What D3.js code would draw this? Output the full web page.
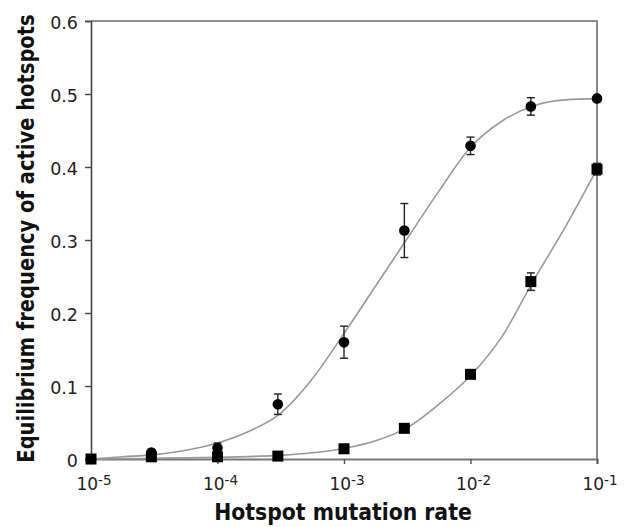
<!DOCTYPE html>
<html>
<head>
<meta charset="utf-8">
<script src="https://cdn.jsdelivr.net/npm/d3@7"></script>
<style>
  html, body { margin: 0; padding: 0; background: #fff; }
  svg { display: block; }
  text { font-family: "DejaVu Sans", Verdana, sans-serif; }
</style>
</head>
<body>
<svg id="chart" width="627" height="527"></svg>
<script>
// Simulated hotspot mutation rates (x) and equilibrium frequencies (y)
const rates = [1e-5, 3e-5, 1e-4, 3e-4, 1e-3, 3e-3, 1e-2, 3e-2, 1e-1];

// Series 1 (circles): mean and error half-width
const circleMeans = [0, 0.009, 0.015, 0.075, 0.160, 0.313, 0.429, 0.483, 0.494];
const circleErr   = [0, 0.004, 0.007, 0.014, 0.022, 0.037, 0.012, 0.012, 0];

// Series 2 (squares): mean and error half-width
const squareMeans = [0, 0.003, 0.003, 0.004, 0.014, 0.042, 0.116, 0.243, 0.397];
const squareErr   = [0, 0.002, 0.002, 0, 0, 0, 0.005, 0.012, 0.008];

// Analytical expectation curves, sampled every quarter decade
const curveRates = [1e-5, 1.778e-5, 3.162e-5, 5.623e-5, 1e-4, 1.778e-4, 3.162e-4, 5.623e-4,
                    1e-3, 1.778e-3, 3.162e-3, 5.623e-3, 1e-2, 1.778e-2, 3.162e-2, 5.623e-2, 1e-1];
const circleCurve = [0, 0.003, 0.006, 0.012, 0.022, 0.038, 0.063, 0.110,
                     0.172, 0.237, 0.302, 0.367, 0.427, 0.463, 0.484, 0.492, 0.4936];
const squareCurve = [0, 0.0005, 0.001, 0.0015, 0.0022, 0.0033, 0.005, 0.0085,
                     0.0145, 0.025, 0.043, 0.075, 0.114, 0.168, 0.245, 0.318, 0.397];

// Axis ticks
const xTickExponents = [-5, -4, -3, -2, -1];
const yTicks = [0, 0.1, 0.2, 0.3, 0.4, 0.5, 0.6];

const xTitle = "Hotspot mutation rate";
const yTitle = "Equilibrium frequency of active hotspots";

const svg = d3.select("#chart");
const plot = { left: 91, right: 597, top: 21, bottom: 459 };

const x = d3.scaleLog().domain([1e-5, 1e-1]).range([plot.left, plot.right]);
const y = d3.scaleLinear().domain([0, 0.6]).range([plot.bottom, plot.top]);

// Frame: top and right edges
svg.append("path")
  .attr("d", `M${plot.left},${plot.top}H${plot.right}V${plot.bottom}`)
  .attr("fill", "none").attr("stroke", "#6b6b6b").attr("stroke-width", 1.6);

// Y axis
const yAxis = svg.append("g")
  .attr("transform", `translate(${plot.left},0)`)
  .call(d3.axisLeft(y).tickValues(yTicks).tickSize(6).tickPadding(7)
        .tickFormat(d => d === 0 ? "0" : d3.format(".1f")(d)));
yAxis.select(".domain").attr("stroke", "#444").attr("stroke-width", 1.6);
yAxis.selectAll(".tick line").attr("stroke", "#444").attr("stroke-width", 1.4);
yAxis.selectAll(".tick text").attr("font-size", 17.5).attr("fill", "#222").attr("dy", "0.42em");

// X axis
const xAxis = svg.append("g")
  .attr("transform", `translate(0,${plot.bottom})`)
  .call(d3.axisBottom(x).tickValues(xTickExponents.map(e => Math.pow(10, e)))
        .tickSize(5).tickFormat(""));
xAxis.select(".domain").attr("stroke", "#777").attr("stroke-width", 2.2);
xAxis.selectAll(".tick line").attr("stroke", "#555").attr("stroke-width", 1.4);

// Decade labels with superscript exponents
const xl = svg.append("g");
xTickExponents.forEach(e => {
  const t = xl.append("text")
    .attr("x", x(Math.pow(10, e)) + 3)
    .attr("y", 490)
    .attr("text-anchor", "middle")
    .attr("font-size", 17)
    .attr("fill", "#222");
  t.append("tspan").text("10");
  t.append("tspan").attr("font-size", 13.5).attr("dy", -5).text(String(e));
});

// Axis titles: bold, stretched vertically so the letters are tall and narrow
svg.append("text")
  .attr("transform", "translate(343,520) scale(1.02,1.18)")
  .attr("text-anchor", "middle")
  .attr("font-size", 20).attr("font-weight", "bold").attr("fill", "#111")
  .text(xTitle);

svg.append("text")
  .attr("transform", "translate(34,238.5) rotate(-90) scale(1,1.17)")
  .attr("text-anchor", "middle")
  .attr("font-size", 19.5).attr("font-weight", "bold").attr("fill", "#111")
  .text(yTitle);

// Expectation curves
const line = d3.line()
  .x(d => x(d[0])).y(d => y(d[1]))
  .curve(d3.curveMonotoneX);

[circleCurve, squareCurve].forEach(vals => {
  svg.append("path")
    .datum(curveRates.map((r, i) => [r, vals[i]]))
    .attr("d", line)
    .attr("fill", "none")
    .attr("stroke", "#9a9a9a")
    .attr("stroke-width", 1.6);
});

// Error bars
function errorBars(means, errs) {
  const g = svg.append("g").attr("stroke", "#222").attr("stroke-width", 1.4);
  rates.forEach((r, i) => {
    if (!errs[i]) return;
    const cx = x(r), lo = y(means[i] - errs[i]), hi = y(means[i] + errs[i]);
    g.append("line").attr("x1", cx).attr("x2", cx).attr("y1", lo).attr("y2", hi);
    g.append("line").attr("x1", cx - 4).attr("x2", cx + 4).attr("y1", lo).attr("y2", lo);
    g.append("line").attr("x1", cx - 4).attr("x2", cx + 4).attr("y1", hi).attr("y2", hi);
  });
}
errorBars(squareMeans, squareErr);
errorBars(circleMeans, circleErr);

// Square markers
svg.append("g").selectAll("rect")
  .data(rates.map((r, i) => [r, squareMeans[i]]))
  .join("rect")
  .attr("x", d => x(d[0]) - 5.5).attr("y", d => y(d[1]) - 5.5)
  .attr("width", 11).attr("height", 11)
  .attr("fill", "#000");

// Circle markers
svg.append("g").selectAll("circle")
  .data(rates.map((r, i) => [r, circleMeans[i]]))
  .join("circle")
  .attr("cx", d => x(d[0])).attr("cy", d => y(d[1]))
  .attr("r", 5.3)
  .attr("fill", "#000");
</script>
</body>
</html>
